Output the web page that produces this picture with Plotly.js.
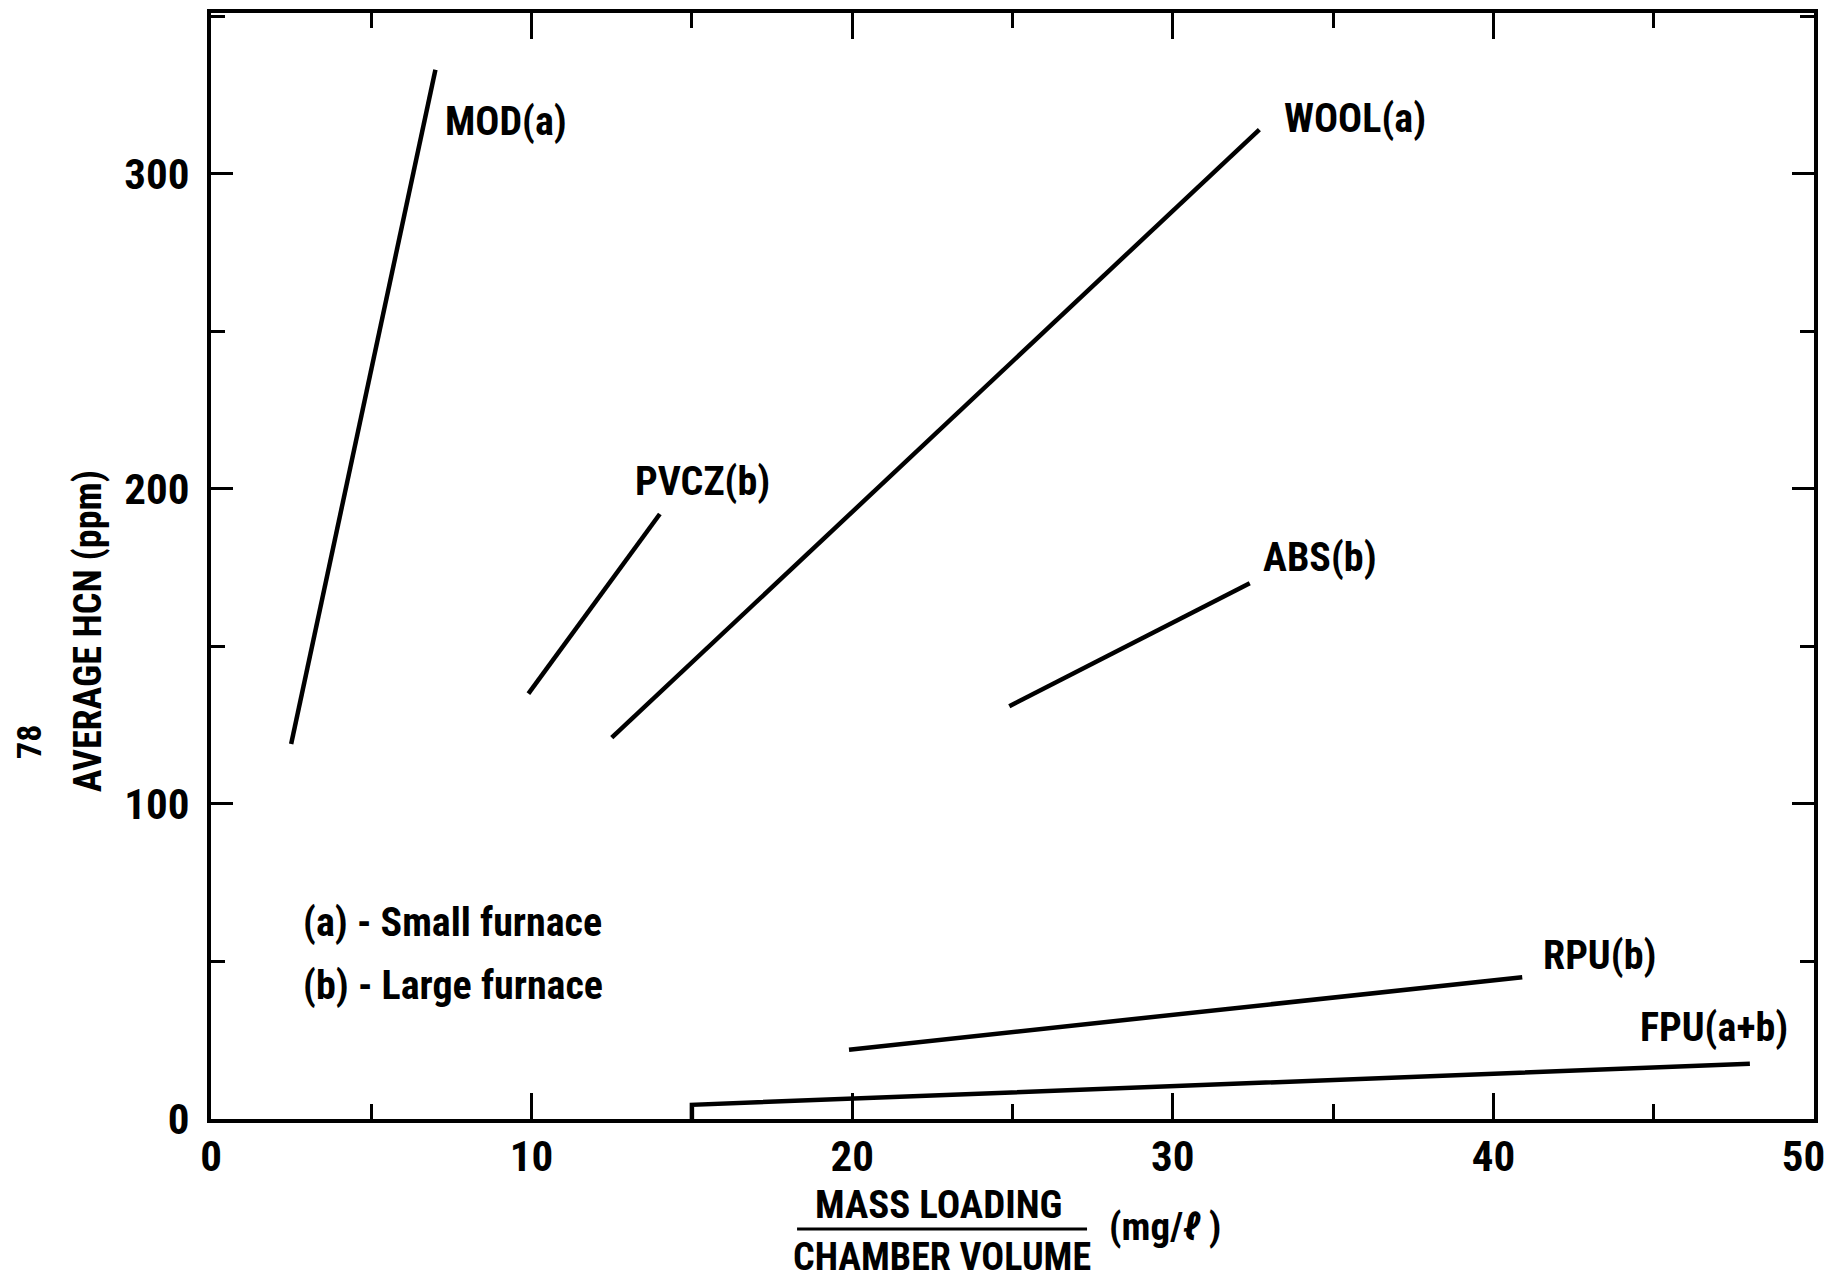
<!DOCTYPE html>
<html>
<head>
<meta charset="utf-8">
<script src="https://cdn.plot.ly/plotly-3.0.1.min.js"></script>
<style>
  html, body { margin: 0; padding: 0; background: #ffffff; }
  #chart { width: 1832px; height: 1281px; }
</style>
</head>
<body>
<div id="chart"></div>
<script>
// ---- data ----
const seriesNames = ["MOD(a)", "PVCZ(b)", "WOOL(a)", "ABS(b)", "RPU(b)", "FPU(a+b)"];
const modX  = [2.5, 7.0];    const modY  = [119, 333];
const pvczX = [9.9, 14.0];   const pvczY = [135, 192];
const woolX = [12.5, 32.7];  const woolY = [121, 314];
const absX  = [24.9, 32.4];  const absY  = [131, 170];
const rpuX  = [19.9, 40.9];  const rpuY  = [22, 45];
const fpuX  = [15, 15, 48];  const fpuY  = [0, 4.5, 17.5];

const xTickVals = [0, 10, 20, 30, 40, 50];
const xTickText = ["0", "10", "20", "30", "40", "50\u2007"];
const yTickVals = [0, 100, 200, 300];
const yTickText = ["0", "100", "200", "300"];

const legendNotes = ["(a) - Small furnace", "(b) - Large furnace"];

// ---- styling / layout ----
const FONT = "'Roboto Condensed', 'Open Sans', sans-serif";
const xs = [modX, pvczX, woolX, absX, rpuX, fpuX];
const ys = [modY, pvczY, woolY, absY, rpuY, fpuY];

const traces = seriesNames.map((n, i) => ({
  type: "scatter", mode: "lines", name: n,
  x: xs[i], y: ys[i],
  line: { color: "#000", width: 4.5 },
  showlegend: false, hoverinfo: "skip"
}));

// label anchors (data coordinates, left-aligned)
const labelPos = [
  [7.25, 316.7], [13.16, 202.4], [33.4, 317.4], [32.76, 178.3], [41.5, 51.8], [44.5, 28.9]
];
const notePos = [[2.81, 62.5], [2.81, 42.5]];

const annotations = [];
seriesNames.forEach((n, i) => annotations.push({
  xref: "x", yref: "y", x: labelPos[i][0], y: labelPos[i][1],
  text: n, showarrow: false, xanchor: "left", yanchor: "middle",
  font: { family: FONT, size: 40, color: "#000", weight: "bold" }
}));
legendNotes.forEach((t, i) => annotations.push({
  xref: "x", yref: "y", x: notePos[i][0], y: notePos[i][1],
  text: t, showarrow: false, xanchor: "left", yanchor: "middle",
  font: { family: FONT, size: 40, color: "#000", weight: "bold" }
}));
// axis titles
annotations.push({
  xref: "paper", yref: "paper", x: -0.0767, y: 0.441, textangle: -90,
  text: "AVERAGE HCN (ppm)", showarrow: false, xanchor: "center", yanchor: "middle",
  font: { family: FONT, size: 38, color: "#000", weight: "bold" }
});
annotations.push({
  xref: "paper", yref: "paper", x: -0.1135, y: 0.341, textangle: -90,
  text: "78", showarrow: false, xanchor: "center", yanchor: "middle",
  font: { family: FONT, size: 34, color: "#000", weight: "bold" }
});
annotations.push({
  xref: "paper", yref: "paper", x: 0.454, y: -0.0778,
  text: "MASS LOADING", showarrow: false, xanchor: "center", yanchor: "middle",
  font: { family: FONT, size: 39, color: "#000", weight: "bold" }
});
annotations.push({
  xref: "paper", yref: "paper", x: 0.456, y: -0.1245,
  text: "CHAMBER VOLUME", showarrow: false, xanchor: "center", yanchor: "middle",
  font: { family: FONT, size: 38, color: "#000", weight: "bold" }
});
annotations.push({
  xref: "paper", yref: "paper", x: 0.595, y: -0.0976,
  text: "(mg/<i>ℓ</i> )", showarrow: false, xanchor: "center", yanchor: "middle",
  font: { family: FONT, size: 39, color: "#000", weight: "bold" }
});

const layout = {
  width: 1832, height: 1281,
  margin: { l: 211, r: 18, t: 13, b: 162 },
  paper_bgcolor: "#fff", plot_bgcolor: "#fff",
  font: { family: FONT, color: "#000", weight: "bold" },
  showlegend: false,
  xaxis: {
    range: [0, 50], tickmode: "array", tickvals: xTickVals, ticktext: xTickText,
    ticks: "inside", ticklen: 26, tickwidth: 3, tickcolor: "#000",
    showline: true, linewidth: 4, linecolor: "#000", mirror: "ticks",
    showgrid: false, zeroline: false, ticklabelstandoff: -4, ticklabeloverflow: "allow",
    tickfont: { family: FONT, size: 43, color: "#000", weight: "bold" },
    minor: { dtick: 5, tick0: 0, ticks: "inside", ticklen: 15, tickwidth: 3, tickcolor: "#000", showgrid: false }
  },
  yaxis: {
    range: [0, 351], tickmode: "array", tickvals: yTickVals, ticktext: yTickText,
    ticks: "inside", ticklen: 22, tickwidth: 3, tickcolor: "#000",
    showline: true, linewidth: 4, linecolor: "#000", mirror: "ticks",
    showgrid: false, zeroline: false, ticklabelstandoff: 9,
    tickfont: { family: FONT, size: 43, color: "#000", weight: "bold" },
    minor: { dtick: 50, tick0: 0, ticks: "inside", ticklen: 14, tickwidth: 3, tickcolor: "#000", showgrid: false }
  },
  shapes: [{
    type: "line", xref: "paper", yref: "paper",
    x0: 0.3656, x1: 0.5465, y0: -0.0995, y1: -0.0995,
    line: { color: "#000", width: 3 }
  }],
  annotations: annotations
};

Plotly.newPlot("chart", traces, layout, { staticPlot: true, displayModeBar: false });
</script>
</body>
</html>
